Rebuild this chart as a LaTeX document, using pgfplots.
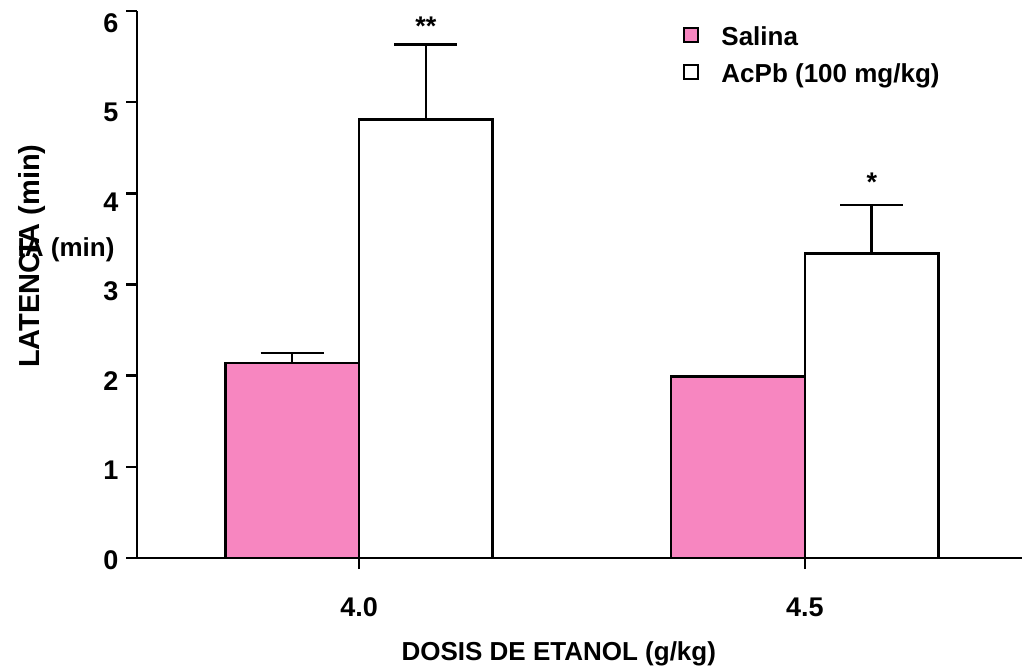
\documentclass[border=0pt]{standalone}
\usepackage{fontspec}
\setmainfont{Liberation Sans}
\usepackage{pgfplots}
\pgfplotsset{compat=1.18}
\definecolor{pinkbar}{RGB}{247,134,192}
\begin{document}
\bfseries
\begin{tikzpicture}
\path[use as bounding box] (0bp,0bp) rectangle (1022bp,666bp);
\begin{axis}[
  at={(137bp,108bp)}, anchor=south west,
  scale only axis, width=885bp, height=547bp,
  xmin=-0.498, xmax=1.487, ymin=0, ymax=6,
  axis x line=bottom, axis y line=left,
  axis line style={-, line width=2.6bp, black},
  xtick={0,1}, xticklabels={4.0,4.5},
  ytick={0,1,2,3,4,5,6},
  tick align=outside, major tick length=11bp,
  tick style={line width=2.6bp, black},
  /pgf/number format/assume math mode=true,
  ticklabel style={font=\fontsize{27bp}{30bp}\selectfont\bfseries},
  yticklabel style={xshift=-4bp, yshift={-(2+1.7*\ticknum)*1bp}},
  xticklabel style={yshift=-25bp},
  xlabel={DOSIS DE ETANOL (g/kg)},
  xlabel style={at={(axis cs:0.448,0)}, anchor=center, yshift=-96bp, font=\fontsize{26bp}{30bp}\selectfont\bfseries},
  ylabel={LATENCIA (min)},
  ylabel style={at={(axis description cs:-0.1185,0.552)}, anchor=center, font=\fontsize{29bp}{32bp}\selectfont\bfseries},
  legend style={at={(axis cs:0.7265,5.835)}, anchor=north west, draw=none, fill=none,
    inner sep=0pt, outer sep=0pt,
    nodes={inner sep=0pt, text height=19bp, text depth=6bp, anchor=base west},
    font=\fontsize{26bp}{30bp}\selectfont\bfseries,
    column sep=22bp, row sep=12bp},
  legend cell align=left,
  legend image code/.code={\filldraw[line width=2.5bp, draw=black] (1bp,3bp) rectangle (15bp,17bp);},
  error bars/y dir=plus, error bars/y explicit,
  error bars/error bar style={line width=2.6bp, black},
  error bars/error mark options={rotate=90, line width=2.6bp, black, mark size=31.5bp},
  clip=false,
]
\addplot[ybar, bar width=0.3, bar shift=0pt, fill=pinkbar, draw=black, line width=2.6bp]
  coordinates {(-0.15,2.14) +- (0,0.11) (0.85,1.99) +- (0,0.0)};
\addlegendentry{Salina}
\addplot[ybar, bar width=0.3, bar shift=0pt, fill=white, draw=black, line width=2.6bp]
  coordinates {(0.15,4.81) +- (0,0.82) (1.15,3.34) +- (0,0.53)};
\addlegendentry{AcPb (100 mg/kg)}
\node[font=\fontsize{27bp}{30bp}\selectfont\bfseries] at (axis cs:0.15,5.83) {**};
\node[font=\fontsize{27bp}{30bp}\selectfont\bfseries] at (axis cs:1.15,4.12) {*};
\node[anchor=east, xshift=-19bp, font=\fontsize{26bp}{30bp}\selectfont\bfseries] at (axis cs:-0.498,3.38) {IA (min)};
\end{axis}
\end{tikzpicture}
\end{document}
